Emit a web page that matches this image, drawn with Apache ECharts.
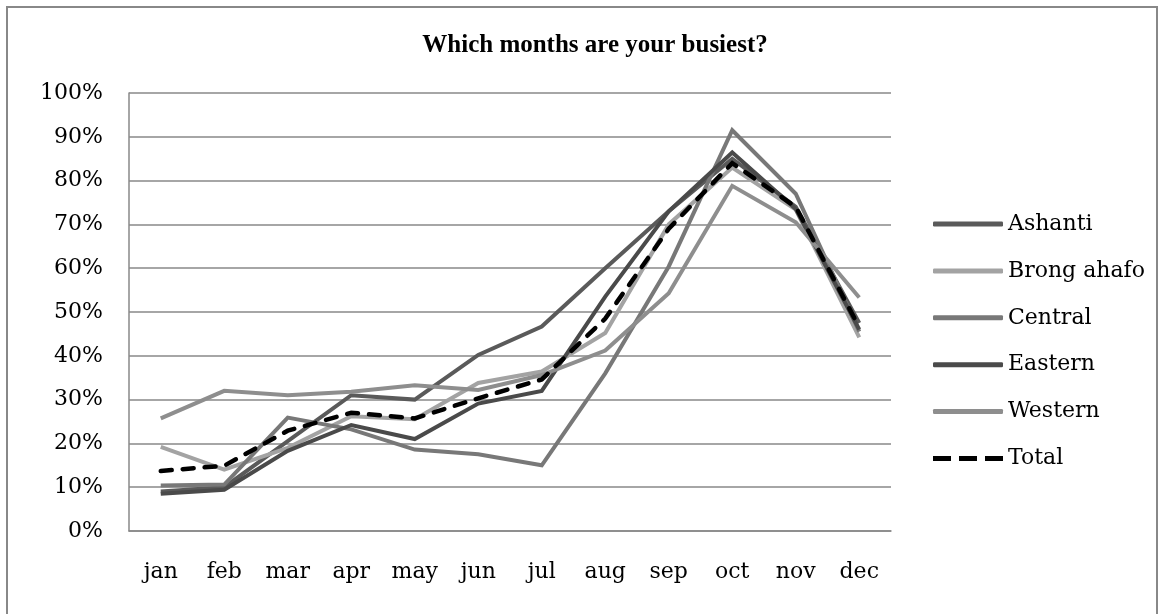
<!DOCTYPE html>
<html>
<head>
<meta charset="utf-8">
<script src="https://cdn.jsdelivr.net/npm/echarts@6/dist/echarts.min.js"></script>
<style>
  html, body { margin: 0; padding: 0; background: #fff; }
  #chart { width: 1164px; height: 614px; }
</style>
</head>
<body>
<div id="chart"></div>
<script>
// months and values (percent)
var months = ['jan','feb','mar','apr','may','jun','jul','aug','sep','oct','nov','dec'];
var ashanti = [9, 10, 20.5, 31, 30, 40.2, 46.7, 60, 73, 85, 74, 47.5];
var brongAhafo = [19.2, 14, 19, 26.2, 25.5, 33.8, 36.4, 45.2, 70, 83, 73.4, 44.2];
var central = [10.4, 10.6, 25.9, 23.2, 18.6, 17.5, 15, 36, 60.4, 91.5, 77, 45.5];
var eastern = [8.5, 9.4, 18.3, 24.2, 21, 29.1, 32, 53.5, 73, 86.4, 73.5, 46];
var western = [25.7, 32, 31, 31.8, 33.3, 32.2, 35.6, 41.2, 54.3, 78.8, 70.5, 53.3];
var total = [13.7, 14.9, 22.9, 27, 25.7, 30.3, 34.6, 48.5, 69, 84, 74, 46.5];

var myChart = echarts.init(document.getElementById('chart'));

var font = '"DejaVu Serif", "Liberation Serif", serif';
// three short bars for the dashed legend key
var dashIcon = 'path://M0,0h18v5h-18z M26,0h18v5h-18z M52,0h18v5h-18z';

function line(name, data, color, dashed) {
    return {
        name: name,
        type: 'line',
        data: data,
        symbol: 'none',
        lineStyle: {
            color: color,
            width: dashed ? 4.5 : 4,
            type: dashed ? [11, 11] : 'solid',
            cap: dashed ? 'round' : 'butt',
            join: 'miter'
        },
        itemStyle: { color: color }
    };
}

var option = {
    animation: false,
    backgroundColor: '#fff',
    graphic: [{
        type: 'rect',
        shape: { x: 7, y: 7, width: 1150, height: 640 },
        style: { fill: 'none', stroke: '#888', lineWidth: 2 }
    }],
    title: {
        text: 'Which months are your busiest?',
        left: 590,
        textAlign: 'center',
        top: 28,
        textStyle: { fontFamily: '"Liberation Serif", serif', fontSize: 25, fontWeight: 'bold', color: '#000' }
    },
    legend: {
        orient: 'vertical',
        left: 928,
        top: 207,
        itemWidth: 70,
        itemHeight: 5,
        itemGap: 22.9,
        icon: 'roundRect',
        textStyle: { fontFamily: font, fontSize: 22, lineHeight: 24, color: '#000' },
        data: [
            { name: 'Ashanti' },
            { name: 'Brong ahafo' },
            { name: 'Central' },
            { name: 'Eastern' },
            { name: 'Western' },
            { name: 'Total', icon: dashIcon }
        ]
    },
    grid: { left: 129, right: 273, top: 93, bottom: 83 },
    xAxis: {
        type: 'category',
        data: months,
        boundaryGap: true,
        axisLine: { lineStyle: { color: '#888', width: 1.5 } },
        axisTick: { show: false },
        axisLabel: { fontFamily: font, fontSize: 22, color: '#000', margin: 30 }
    },
    yAxis: {
        type: 'value',
        min: 0,
        max: 100,
        interval: 10,
        axisLine: { show: true, lineStyle: { color: '#888', width: 1.5 } },
        axisTick: { show: false },
        splitLine: { lineStyle: { color: '#888', width: 1.5 } },
        axisLabel: { formatter: '{value}%', fontFamily: font, fontSize: 22, color: '#000', margin: 26 }
    },
    series: [
        line('Ashanti', ashanti, '#5a5a5a'),
        line('Brong ahafo', brongAhafo, '#a3a3a3'),
        line('Central', central, '#787878'),
        line('Eastern', eastern, '#4a4a4a'),
        line('Western', western, '#8e8e8e'),
        line('Total', total, '#000000', true)
    ]
};

myChart.setOption(option);
</script>
</body>
</html>
